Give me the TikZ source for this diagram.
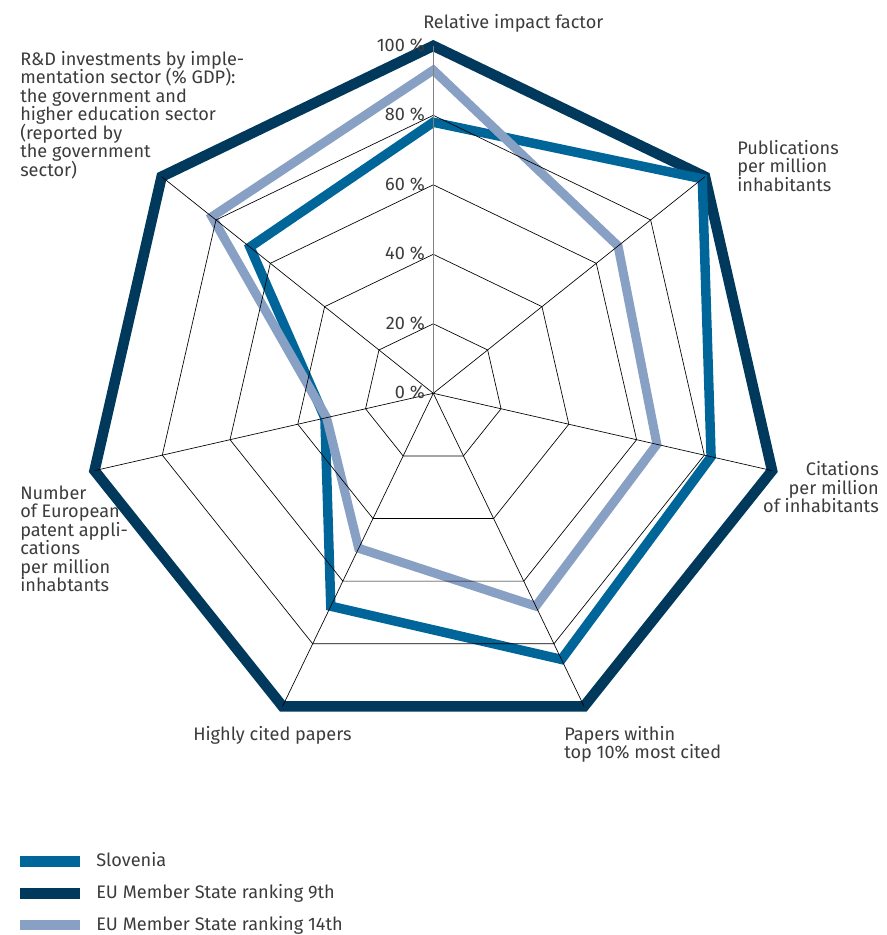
\documentclass[tikz,border=0pt]{standalone}
\usepackage{fontspec}
\setmainfont{Fira Sans}
\definecolor{slo}{RGB}{0,102,153}
\definecolor{navy}{RGB}{0,57,92}
\definecolor{lite}{RGB}{136,160,196}
\definecolor{txt}{RGB}{60,60,60}
\definecolor{axisgray}{RGB}{130,130,130}
\begin{document}
\begin{tikzpicture}[x=0.75pt,y=-0.75pt,
  lbl/.style={text=txt, inner sep=0pt, font=\fontsize{13.6}{14}\selectfont},
  gridline/.style={black, line width=0.5pt},
  series/.style={line join=miter, miter limit=20},
  swatch/.style={inner sep=0pt, minimum width=45pt, minimum height=7.9pt}]
\useasboundingbox (0,0) rectangle (887,935);
\def\cx{433.3}\def\cy{393.3}\def\R{3.475}
% series coordinates
\foreach \v [count=\k from 0] in {100,100,100,100,100,100,100}
  \coordinate (n\k) at ({\cx+\v*\R*cos(90-\k*360/7)}, {\cy-\v*\R*sin(90-\k*360/7)});
\foreach \v [count=\k from 0] in {78,99,82,85,68,32,67.5}
  \coordinate (s\k) at ({\cx+\v*\R*cos(90-\k*360/7)}, {\cy-\v*\R*sin(90-\k*360/7)});
\foreach \v [count=\k from 0] in {93,68,66,68,49.5,31.5,81.5}
  \coordinate (l\k) at ({\cx+\v*\R*cos(90-\k*360/7)}, {\cy-\v*\R*sin(90-\k*360/7)});
\coordinate (c) at (\cx,\cy);
% data polygons
\draw[series, navy, line width=7.9pt] (n0)--(n1)--(n2)--(n3)--(n4)--(n5)--(n6)--cycle;
\draw[series, slo, line width=7.1pt] (s0)--(s1)--(s2)--(s3)--(s4)--(s5)--(s6)--cycle;
\draw[series, lite, line width=6.75pt] (l0)--(l1)--(l2)--(l3)--(l4)--(l5)--(l6)--cycle;
% grid
\foreach \p in {20,40,60,80,100}{
  \foreach \k in {0,...,6}
    \coordinate (g\p-\k) at ({\cx+\p*\R*cos(90-\k*360/7)}, {\cy-\p*\R*sin(90-\k*360/7)});
}
\foreach \p in {20,40,60,80}
  \draw[gridline] (g\p-0)--(g\p-1)--(g\p-2)--(g\p-3)--(g\p-4)--(g\p-5)--(g\p-6)--cycle;
\foreach \k in {1,...,6}
  \draw[gridline] (c) -- (g100-\k);
\draw[axisgray, line width=1.1pt] (c) -- (g100-0);
% percentage labels
\foreach \p in {0,20,40,60,80,100}
  \node[lbl, anchor=base east] (pct\p) at (425, {\cy-\p*\R+5.5}) {\p{} \%};
% axis labels
\node[lbl, anchor=base west] (rif) at (423,28) {Relative impact factor};
\foreach \t [count=\i from 0] in {{Publications}, {per million}, {inhabitants}}
  \node[lbl, anchor=base west] (pub\i) at (737,{154+\i*18.5}) {\t};
\foreach \t [count=\i from 0] in {{Citations}, {per million}, {of inhabitants}}
  \node[lbl, anchor=base east] (cit\i) at (879,{475.7+\i*18.5}) {\t};
\foreach \t [count=\i from 0] in {{Papers within}, {top 10\% most cited}}
  \node[lbl, anchor=base west] (ptop\i) at (564,{740+\i*18.5}) {\t};
\node[lbl, anchor=base west] (hcp) at (193,740) {Highly cited papers};
\foreach \t [count=\i from 0] in {{Number}, {of European}, {patent appli-}, {cations}, {per million}, {inhabtants}}
  \node[lbl, anchor=base west] (pat\i) at (20,{499+\i*18.5}) {\t};
\foreach \t [count=\i from 0] in {{R\&D investments by imple-}, {mentation sector (\% GDP):}, {the government and}, {higher education sector}, {(reported by}, {the government}, {sector)}}
  \node[lbl, anchor=base west] (rd\i) at (20,{65+\i*18.5}) {\t};
% legend
\node[swatch, fill=slo] (sw1) at (50,861.3) {};
\node[swatch, fill=navy] (sw2) at (50,893.7) {};
\node[swatch, fill=lite] (sw3) at (50,925.2) {};
\node[lbl, anchor=base west] (lg1) at (96,866.7) {Slovenia};
\node[lbl, anchor=base west] (lg2) at (96,898) {EU Member State ranking 9th};
\node[lbl, anchor=base west] (lg3) at (96,930) {EU Member State ranking 14th};
\end{tikzpicture}
\end{document}
